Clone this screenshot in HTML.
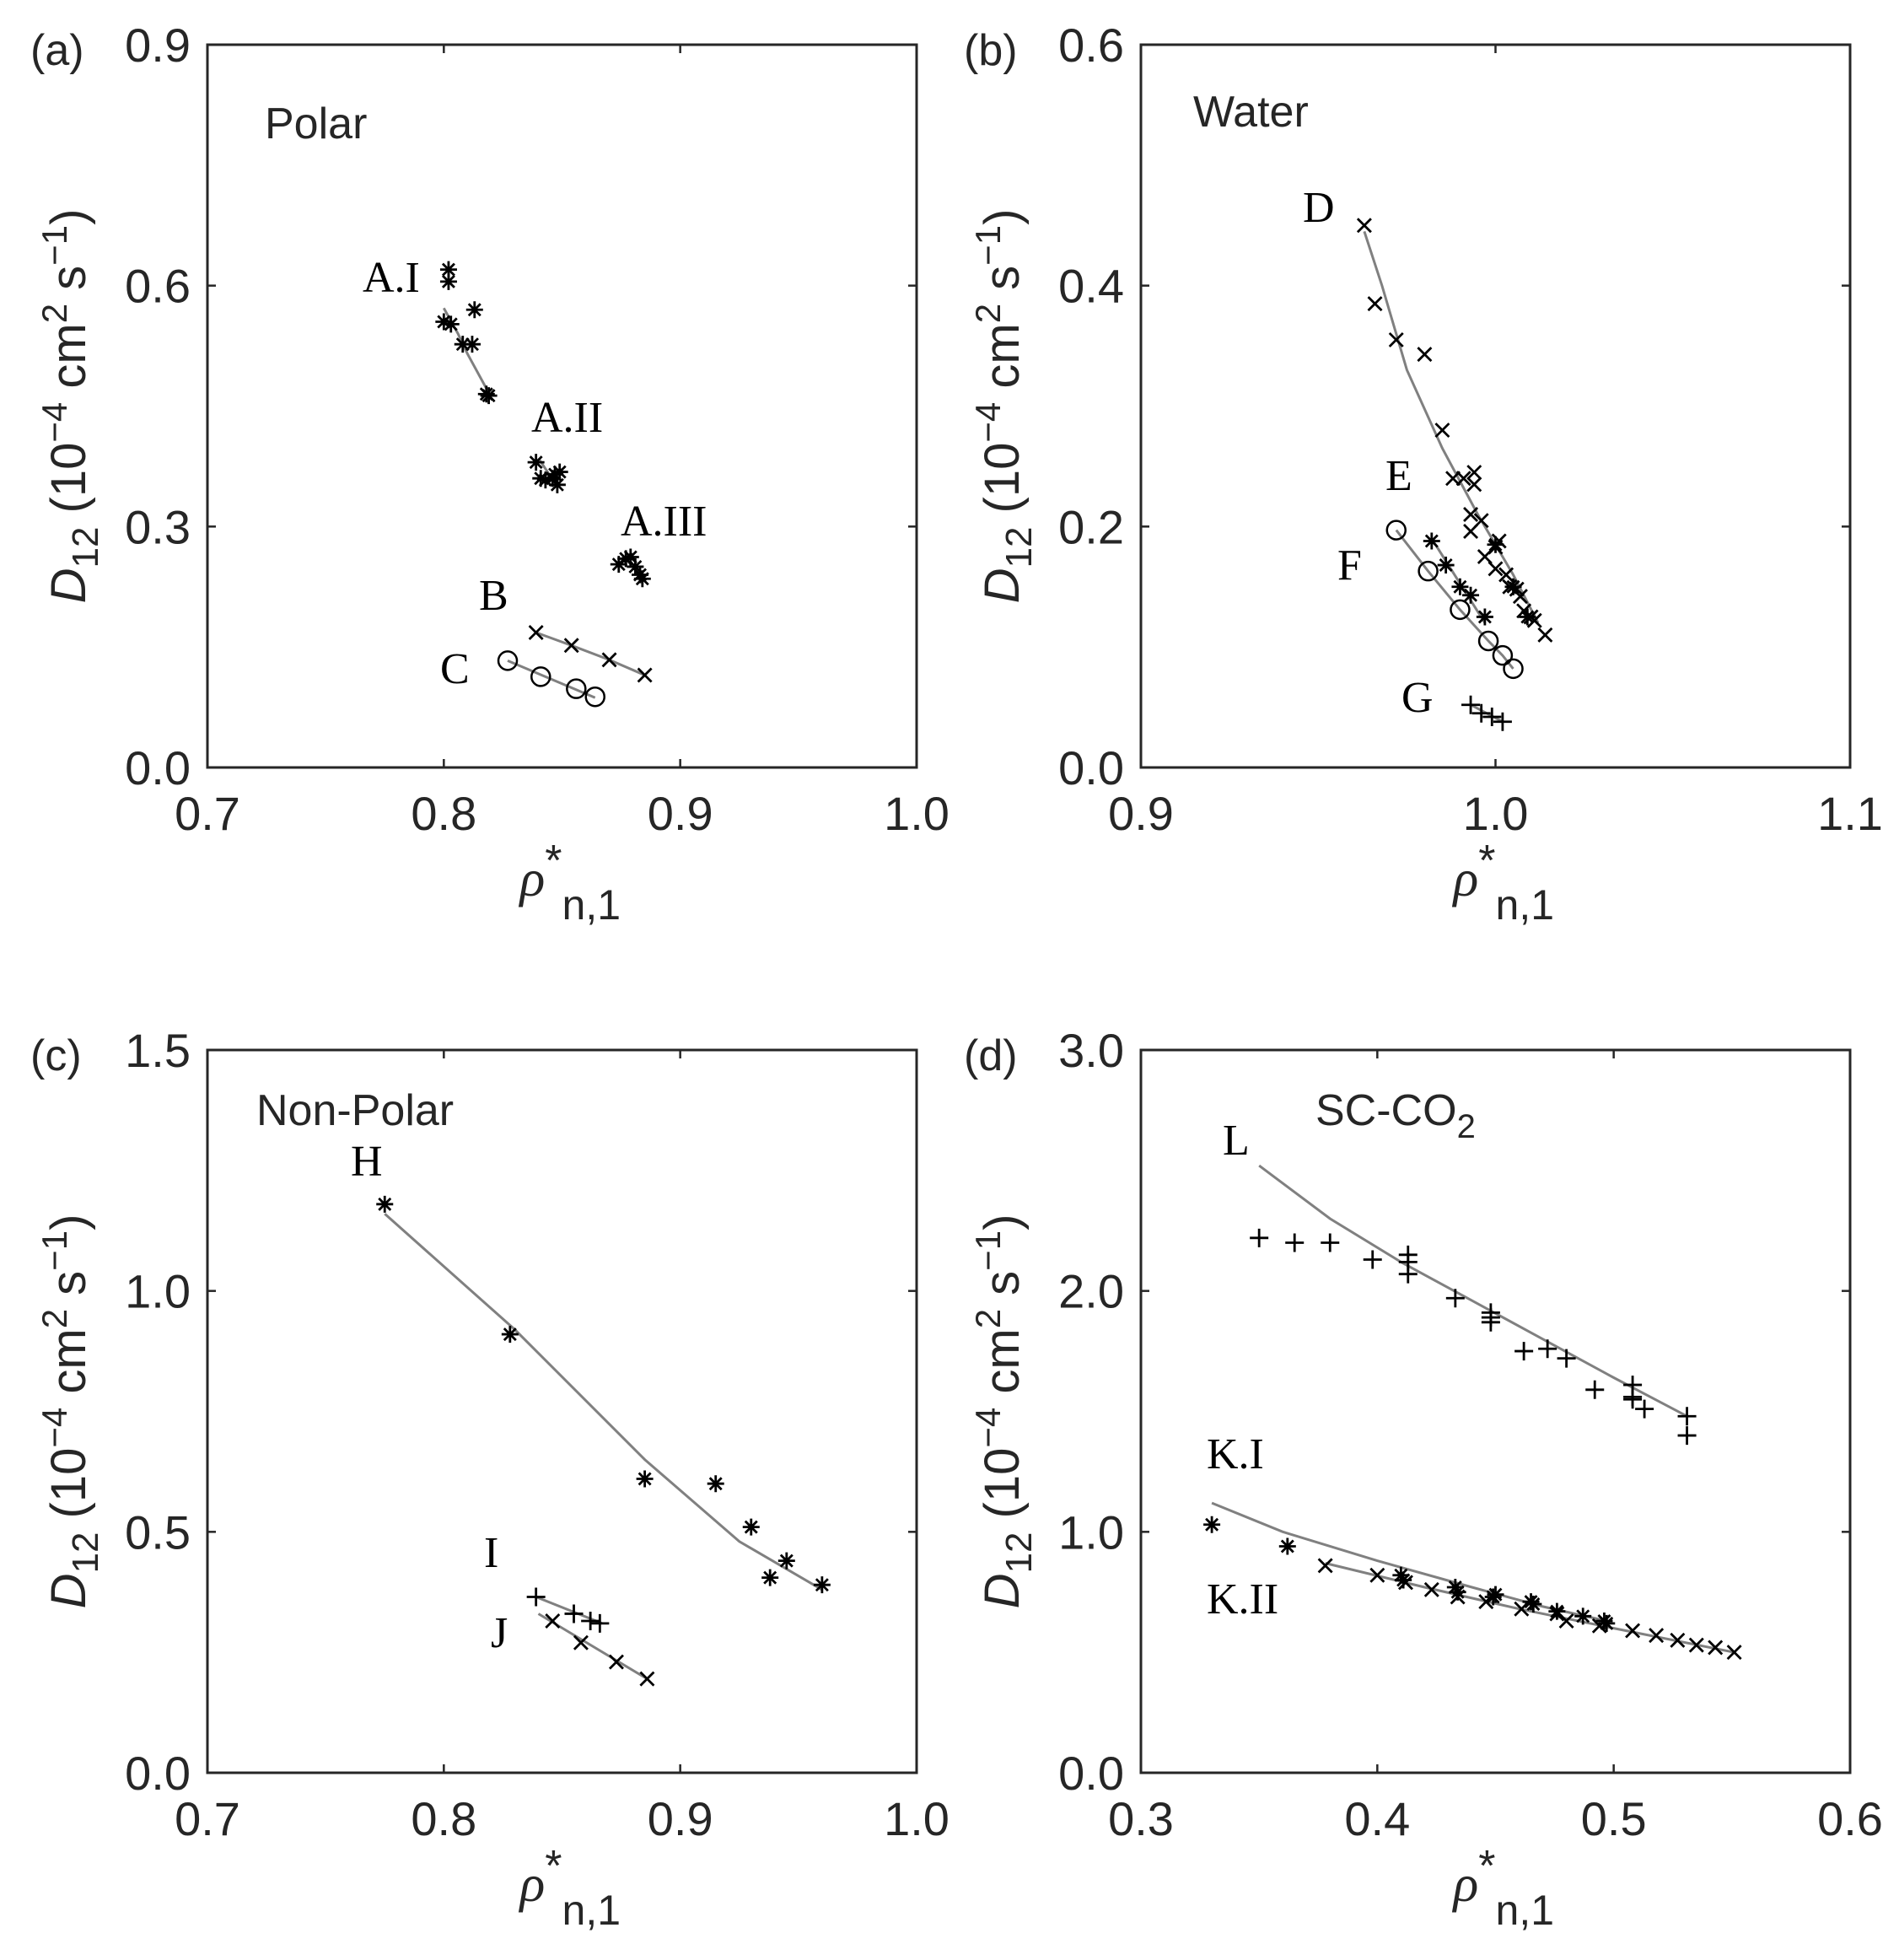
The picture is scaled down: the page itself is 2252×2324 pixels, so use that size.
<!DOCTYPE html>
<html><head><meta charset="utf-8"><style>
html,body{margin:0;padding:0;background:#fff;}
svg{display:block;}
</style></head><body>
<svg id="s" xmlns="http://www.w3.org/2000/svg" width="2252" height="2324" viewBox="0 0 2252 2324"></svg>
<script>
const S=document.getElementById('s');let out='';
const W=841,H=857;
const P={
a:{L:246,T:53,x0:0.7,x1:1.0,y0:0,y1:0.9,xt:[0.7,0.8,0.9,1.0],yt:[0,0.3,0.6,0.9]},
b:{L:1353,T:53,x0:0.9,x1:1.1,y0:0,y1:0.6,xt:[0.9,1.0,1.1],yt:[0,0.2,0.4,0.6]},
c:{L:246,T:1245,x0:0.7,x1:1.0,y0:0,y1:1.5,xt:[0.7,0.8,0.9,1.0],yt:[0,0.5,1.0,1.5]},
d:{L:1353,T:1245,x0:0.3,x1:0.6,y0:0,y1:3.0,xt:[0.3,0.4,0.5,0.6],yt:[0,1.0,2.0,3.0]}};
function X(p,v){return p.L+(v-p.x0)/(p.x1-p.x0)*W;}
function Y(p,v){return p.T+H-(v-p.y0)/(p.y1-p.y0)*H;}
const tf='font-family="Liberation Sans, Arial, sans-serif" fill="#262626"';
for(const k in P){const p=P[k];const B=p.T+H,R=p.L+W;
 out+=`<rect x="${p.L}" y="${p.T}" width="${W}" height="${H}" fill="none" stroke="#262626" stroke-width="3"/>`;
 for(const v of p.xt){const x=X(p,v);out+=`<line x1="${x}" y1="${B}" x2="${x}" y2="${B-10}" stroke="#262626" stroke-width="2.5"/><line x1="${x}" y1="${p.T}" x2="${x}" y2="${p.T+10}" stroke="#262626" stroke-width="2.5"/>`;
  out+=`<text x="${x}" y="${B+74}" font-size="56" text-anchor="middle" ${tf}>${v.toFixed(1)}</text>`;}
 for(const v of p.yt){const y=Y(p,v);out+=`<line x1="${p.L}" y1="${y}" x2="${p.L+10}" y2="${y}" stroke="#262626" stroke-width="2.5"/><line x1="${R}" y1="${y}" x2="${R-10}" y2="${y}" stroke="#262626" stroke-width="2.5"/>`;
  out+=`<text x="${p.L-20}" y="${y+20}" font-size="56" text-anchor="end" ${tf}>${v.toFixed(1)}</text>`;}
 out+=`<text x="${p.L-210}" y="${p.T+24}" font-size="52" ${tf}>(${k})</text>`;
 const cy=p.T+H/2,cx=p.L-145;
 out+=`<text transform="translate(${cx},${cy}) rotate(-90)" text-anchor="middle" font-size="58" ${tf}><tspan font-style="italic">D</tspan><tspan font-size="44" dy="15">12</tspan><tspan dy="-15"> (10</tspan><tspan font-size="42" dy="-22">−4</tspan><tspan dy="22"> cm</tspan><tspan font-size="42" dy="-22">2</tspan><tspan dy="22"> s</tspan><tspan font-size="42" dy="-22">−1</tspan><tspan dy="22">)</tspan></text>`;
 out+=`<text x="${p.L+W/2-50}" y="${B+152}" font-size="62" ${tf}><tspan font-style="italic" font-family="Liberation Serif, serif">ρ</tspan><tspan font-size="52" dy="-24">*</tspan><tspan font-size="50" dy="52">n,1</tspan></text>`;
}
function line(p,pts){out+=`<polyline fill="none" stroke="#808080" stroke-width="3" points="${pts.map(q=>X(p,q[0]).toFixed(1)+','+Y(p,q[1]).toFixed(1)).join(' ')}"/>`;}
function mk(p,type,pts){for(const q of pts){const x=X(p,q[0]),y=Y(p,q[1]);let d='';
 if(type=='x'){const r=8;d=`M${x-r},${y-r}L${x+r},${y+r}M${x-r},${y+r}L${x+r},${y-r}`;}
 else if(type=='+'){const r=11;d=`M${x-r},${y}L${x+r},${y}M${x},${y-r}L${x},${y+r}`;}
 else if(type=='*'){const r=10,s=7;d=`M${x-r},${y}L${x+r},${y}M${x},${y-r}L${x},${y+r}M${x-s},${y-s}L${x+s},${y+s}M${x-s},${y+s}L${x+s},${y-s}`;}
 if(type=='o'){out+=`<circle cx="${x}" cy="${y}" r="11" fill="none" stroke="#000" stroke-width="2.5"/>`;}
 else out+=`<path d="${d}" stroke="#000" stroke-width="2.8" fill="none"/>`;}}
function t(x,y,s,fs){out+=`<text x="${x}" y="${y}" font-size="${fs||52}" font-family="Liberation Serif, serif" fill="#000">${s}</text>`;}
function ts(x,y,s){out+=`<text x="${x}" y="${y}" font-size="52" ${tf} fill="#000">${s}</text>`;}
let p=P.a;
line(p,[[0.800,0.572],[0.806,0.54],[0.810,0.515],[0.818,0.472]]);
line(p,[[0.840,0.385],[0.848,0.35]]);line(p,[[0.876,0.262],[0.884,0.238]]);
line(p,[[0.839,0.168],[0.854,0.152],[0.870,0.134],[0.885,0.115]]);
line(p,[[0.827,0.133],[0.864,0.087]]);
mk(p,'*',[[0.802,0.62],[0.802,0.605],[0.80,0.555],[0.803,0.552],[0.808,0.527],[0.812,0.527],[0.813,0.57],[0.818,0.465],[0.819,0.463]]);
mk(p,'*',[[0.839,0.38],[0.841,0.36],[0.843,0.358],[0.847,0.365],[0.849,0.368],[0.848,0.352],[0.846,0.36]]);
mk(p,'*',[[0.874,0.253],[0.877,0.26],[0.879,0.262],[0.881,0.25],[0.883,0.24],[0.884,0.235]]);
mk(p,'x',[[0.839,0.168],[0.854,0.152],[0.870,0.134],[0.885,0.115]]);
mk(p,'o',[[0.827,0.133],[0.841,0.113],[0.856,0.098],[0.864,0.088]]);
ts(314,164,'Polar');t(430,346,'A.I');t(630,512,'A.II');t(736,635,'A.III');t(568,723,'B');t(522,810,'C');
p=P.b;
line(p,[[0.963,0.445],[0.968,0.40],[0.975,0.33],[0.985,0.265],[0.995,0.21],[1.005,0.16],[1.012,0.12]]);
line(p,[[0.982,0.19],[0.997,0.12]]);
line(p,[[0.972,0.197],[0.981,0.163],[0.990,0.131],[0.998,0.105],[1.002,0.093],[1.005,0.082]]);
line(p,[[0.993,0.052],[1.002,0.038]]);
mk(p,'x',[[0.963,0.45],[0.966,0.385],[0.972,0.355],[0.980,0.343],[0.985,0.28],[0.988,0.24],[0.991,0.24],[0.994,0.245],[0.994,0.235],[0.993,0.21],[0.996,0.205],[0.993,0.196],[0.997,0.175],[1.000,0.183],[1.001,0.188],[1.000,0.165],[1.003,0.16],[1.004,0.15],[1.006,0.148],[1.007,0.142],[1.008,0.13],[1.010,0.125],[1.011,0.122],[1.014,0.11]]);
mk(p,'*',[[0.982,0.188],[0.986,0.168],[0.990,0.15],[0.993,0.143],[0.997,0.125],[1.000,0.185],[1.005,0.15],[1.009,0.125]]);
mk(p,'o',[[0.972,0.197],[0.981,0.163],[0.990,0.131],[0.998,0.105],[1.002,0.093],[1.005,0.082]]);
mk(p,'+',[[0.993,0.052],[0.996,0.045],[0.999,0.042],[1.002,0.038]]);
ts(1415,150,'Water');t(1545,263,'D');t(1643,581,'E');t(1586,687,'F');t(1662,844,'G');
p=P.c;
line(p,[[0.775,1.16],[0.83,0.92],[0.885,0.65],[0.925,0.48],[0.960,0.38]]);
line(p,[[0.839,0.365],[0.867,0.31]]);line(p,[[0.84,0.33],[0.886,0.195]]);
mk(p,'*',[[0.775,1.18],[0.828,0.91],[0.885,0.61],[0.915,0.6],[0.930,0.51],[0.938,0.405],[0.945,0.44],[0.960,0.39]]);
mk(p,'+',[[0.839,0.365],[0.855,0.33],[0.862,0.315],[0.866,0.31]]);
mk(p,'x',[[0.846,0.315],[0.858,0.27],[0.873,0.23],[0.886,0.195]]);
ts(304,1334,'Non-Polar');t(416,1394,'H');t(574,1858,'I');t(582,1953,'J');
p=P.d;
line(p,[[0.350,2.52],[0.38,2.3],[0.41,2.12],[0.44,1.96],[0.47,1.80],[0.50,1.64],[0.531,1.48]]);
line(p,[[0.330,1.12],[0.36,1.0],[0.40,0.88],[0.44,0.77],[0.47,0.69],[0.497,0.63]]);
line(p,[[0.378,0.87],[0.42,0.77],[0.46,0.68],[0.50,0.60],[0.551,0.50]]);
mk(p,'+',[[0.350,2.22],[0.365,2.2],[0.380,2.2],[0.398,2.13],[0.413,2.15],[0.413,2.12],[0.413,2.07],[0.433,1.97],[0.448,1.91],[0.448,1.89],[0.448,1.87],[0.462,1.75],[0.472,1.76],[0.480,1.72],[0.492,1.59],[0.508,1.61],[0.508,1.56],[0.508,1.55],[0.513,1.51],[0.531,1.48],[0.531,1.40]]);
mk(p,'*',[[0.330,1.03],[0.362,0.94],[0.410,0.82],[0.411,0.80],[0.433,0.77],[0.434,0.75],[0.449,0.73],[0.450,0.74],[0.465,0.71],[0.466,0.70],[0.476,0.67],[0.487,0.65],[0.496,0.63],[0.497,0.62]]);
mk(p,'x',[[0.378,0.86],[0.400,0.82],[0.412,0.79],[0.423,0.76],[0.434,0.73],[0.446,0.71],[0.461,0.68],[0.476,0.66],[0.480,0.63],[0.494,0.61],[0.508,0.59],[0.518,0.57],[0.527,0.55],[0.535,0.53],[0.543,0.52],[0.551,0.50]]);
out+=`<text x="1560" y="1334" font-size="52" ${tf} fill="#000">SC-CO<tspan font-size="40" dy="15">2</tspan></text>`;
t(1450,1369,'L');t(1431,1741,'K.I');t(1431,1913,'K.II');
S.innerHTML=out;
</script>
</body></html>
